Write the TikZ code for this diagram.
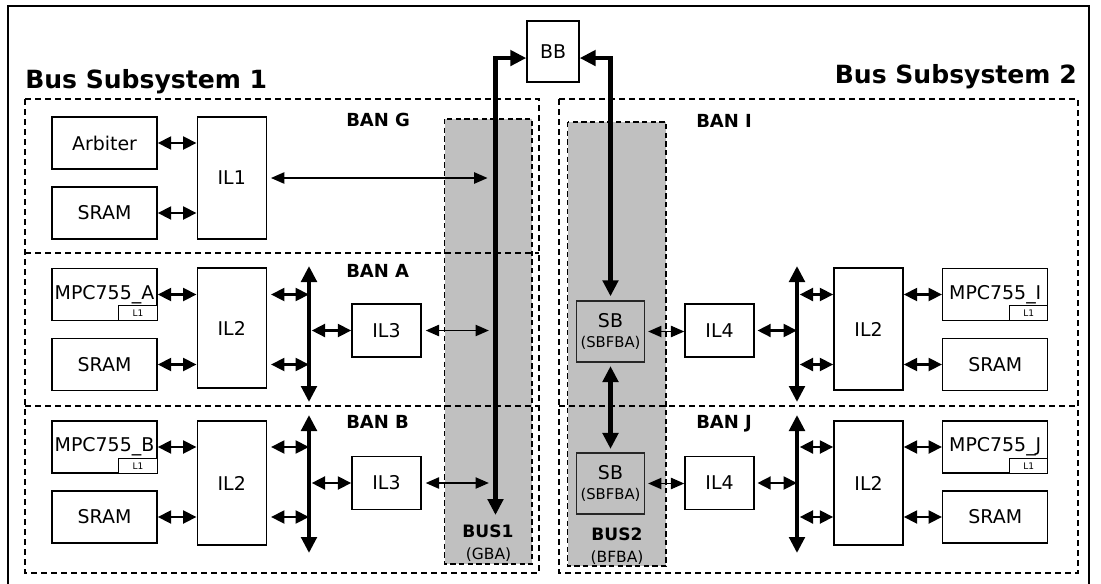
\documentclass[tikz,border=0pt]{standalone}
\usepackage{fontspec}
\setmainfont{DejaVu Sans}
\usepackage{xcolor}
\usetikzlibrary{arrows.meta,positioning,calc}
\definecolor{BusGray}{HTML}{C0C0C0}
\definecolor{FrameInk}{HTML}{000000}
\newdimen\pxu
\pxu=0.75pt
\tikzset{
  unitbox/.style={draw=FrameInk,line width=1.1pt,fill=white,inner sep=0pt,align=center,font=\fontsize{14.2}{16}\selectfont},
  cpubox/.style={unitbox,minimum width=105\pxu,minimum height=52\pxu},
  ilbox/.style={unitbox,minimum width=69\pxu,minimum height=53\pxu},
  hubbox/.style={unitbox,minimum width=69\pxu,minimum height=#1\pxu},
  cachetag/.style={draw=FrameInk,line width=0.8pt,fill=white,inner sep=0pt,anchor=south east,minimum width=38.5\pxu,minimum height=15\pxu,font=\fontsize{6.8}{7}\selectfont},
  bridgebox/.style={unitbox,fill=BusGray,draw=FrameInk!85,minimum width=68.5\pxu,minimum height=61\pxu},
  subsysframe/.style={draw=FrameInk,line width=1.1pt,dash pattern=on 4.5pt off 3pt},
  busfield/.style={fill=BusGray,draw=FrameInk,line width=0.8pt,dash pattern=on 4pt off 2.5pt},
  titlelabel/.style={inner sep=0pt,font=\bfseries\fontsize{18.8}{22}\selectfont},
  banlabel/.style={inner sep=0pt,anchor=base west,font=\bfseries\fontsize{13.5}{15}\selectfont},
  buslabel/.style={inner sep=0pt,anchor=base,font=\bfseries\fontsize{12.8}{15}\selectfont},
  busnote/.style={inner sep=0pt,anchor=base,font=\fontsize{11.6}{14}\selectfont},
  linkarrow/.style={{Triangle[length=10pt,width=9.5pt]}-{Triangle[length=10pt,width=9.5pt]},line width=2.2pt},
  thinarrow/.style={{Triangle[length=10pt,width=8.5pt]}-{Triangle[length=10pt,width=8.5pt]},line width=1pt},
  busline/.style={{Triangle[length=12pt,width=11.5pt]}-{Triangle[length=12pt,width=11.5pt]},line width=3.3pt}
}
\begin{document}
\begin{tikzpicture}[x=0.75pt,y=-0.75pt]
\clip (0,0) rectangle (1101,583);
\fill[white] (0,0) rectangle (1101,583);
\draw[line width=1.5pt] (7.5,6) rectangle (1089,600);
\draw[subsysframe] (25,99) rectangle (539,573);
\draw[subsysframe] (559,99) rectangle (1078,573);
\draw[busfield] (444.5,119) rectangle (532,564);
\draw[busfield] (567.5,122) rectangle (666,566);
\draw[subsysframe] (25,253) -- (539,253) (25,406) -- (539,406) (559,406) -- (1078,406);

\node[unitbox,minimum width=52\pxu,minimum height=61\pxu] (bb) at (553,51.5) {BB};
\node[cpubox] (arb) at (104.5,143) {Arbiter};
\node[cpubox] (sramG) at (104.5,213) {SRAM};
\node[hubbox=122] (il1) at (231.75,178) {IL1};
\node[cpubox] (mpcA) at (104.5,294.5) {MPC755\_A};
\node[cachetag] (l1A) at (mpcA.south east) {L1};
\node[cpubox] (sramA) at (104.5,364.5) {SRAM};
\node[hubbox=120] (il2A) at (231.75,328) {IL2};
\node[ilbox] (il3A) at (386.5,330.5) {IL3};
\node[cpubox] (mpcB) at (104.5,447) {MPC755\_B};
\node[cachetag] (l1B) at (mpcB.south east) {L1};
\node[cpubox] (sramB) at (104.5,517) {SRAM};
\node[hubbox=124] (il2B) at (231.75,483) {IL2};
\node[ilbox] (il3B) at (386.5,483) {IL3};

\node[bridgebox] (sbI) at (610.5,331.5) {SB\\[-1pt]{\fontsize{11.1}{13}\selectfont(SBFBA)}};
\node[bridgebox] (sbJ) at (610.5,483.5) {SB\\[-1pt]{\fontsize{11.1}{13}\selectfont(SBFBA)}};
\node[ilbox] (il4I) at (719.5,330.5) {IL4};
\node[ilbox] (il4J) at (719.5,483) {IL4};
\node[hubbox=122] (il2I) at (868.5,329) {IL2};
\node[hubbox=124] (il2J) at (868.5,483) {IL2};
\node[cpubox] (mpcI) at (995.25,294.5) {MPC755\_I};
\node[cachetag] (l1I) at (mpcI.south east) {L1};
\node[cpubox] (sramI) at (995.25,364.5) {SRAM};
\node[cpubox] (mpcJ) at (995.25,447) {MPC755\_J};
\node[cachetag] (l1J) at (mpcJ.south east) {L1};
\node[cpubox] (sramJ) at (995.25,517) {SRAM};

\coordinate (topbusA) at (309,266);
\coordinate (botbusA) at (309,402);
\coordinate (topbusB) at (309,415);
\coordinate (botbusB) at (309,553);
\coordinate (topbusI) at (797,266);
\coordinate (botbusI) at (797,402);
\coordinate (topbusJ) at (797,415);
\coordinate (botbusJ) at (797,553);
\coordinate (bus1end) at (495.5,515);

\draw[busline] (bus1end) |- ([yshift=-4.9pt]bb.west);
\draw[busline,shorten >=3pt] ([yshift=-4.9pt]bb.east) -| (sbI.north);
\draw[busline,shorten <=2.5pt,shorten >=2.5pt] (sbI.south) -- (sbJ.north);

\draw[linkarrow] (arb.east) -- (arb.east -| il1.west);
\draw[linkarrow] (sramG.east) -- (sramG.east -| il1.west);
\draw[thinarrow,shorten <=3pt,shorten >=6pt] (il1.east) -- (il1.east -| bus1end);

\foreach \ban in {A,B}{
  \draw[busline] (topbus\ban) -- (botbus\ban);
  \draw[linkarrow] (mpc\ban.east) -- (mpc\ban.east -| il2\ban.west);
  \draw[linkarrow] (sram\ban.east) -- (sram\ban.east -| il2\ban.west);
  \draw[linkarrow,shorten <=3pt] (il2\ban.east |- mpc\ban.east) -- (topbus\ban |- mpc\ban.east);
  \draw[linkarrow,shorten <=3pt] (il2\ban.east |- sram\ban.east) -- (topbus\ban |- sram\ban.east);
  \draw[linkarrow,shorten <=2pt] (topbus\ban |- il3\ban.west) -- (il3\ban.west);
  \draw[thinarrow,shorten <=3pt,shorten >=5pt] (il3\ban.east) -- (il3\ban.east -| bus1end);
}
\foreach \ban in {I,J}{
  \draw[busline] (topbus\ban) -- (botbus\ban);
  \draw[thinarrow,shorten <=2pt] (sb\ban.east) -- (sb\ban.east -| il4\ban.west);
  \draw[linkarrow,shorten <=2pt] (il4\ban.east) -- (il4\ban.east -| topbus\ban);
  \draw[linkarrow,shorten <=2pt] (topbus\ban |- mpc\ban.west) -- (il2\ban.west |- mpc\ban.west);
  \draw[linkarrow,shorten <=2pt] (topbus\ban |- sram\ban.west) -- (il2\ban.west |- sram\ban.west);
  \draw[linkarrow] (il2\ban.east |- mpc\ban.west) -- (mpc\ban.west);
  \draw[linkarrow] (il2\ban.east |- sram\ban.west) -- (sram\ban.west);
}

\node[titlelabel,anchor=base west] (bs1title) at (25,88) {Bus Subsystem 1};
\node[titlelabel,anchor=base east] (bs2title) at (1077,83) {Bus Subsystem 2};
\node[banlabel] (banG) at (346,126) {BAN G};
\node[banlabel] (banA) at (346,277) {BAN A};
\node[banlabel] (banB) at (346,428) {BAN B};
\node[banlabel] (banI) at (696,127) {BAN I};
\node[banlabel] (banJ) at (696,428) {BAN J};
\node[buslabel] (bus1name) at (488,537) {BUS1};
\node[busnote] (bus1kind) at (488.5,559) {(GBA)};
\node[buslabel] (bus2name) at (617,540) {BUS2};
\node[busnote] (bus2kind) at (617,562) {(BFBA)};
\end{tikzpicture}
\end{document}
